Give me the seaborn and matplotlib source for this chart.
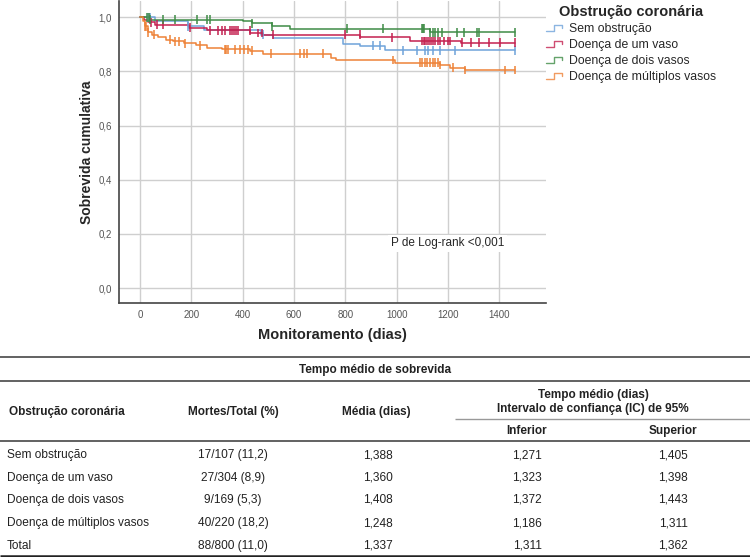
import numpy as np
import pandas as pd
import matplotlib
matplotlib.use("Agg")
import matplotlib.pyplot as plt
import seaborn as sns
from matplotlib.legend_handler import HandlerBase
from matplotlib.lines import Line2D

# ---- survival curves (KM steps) ----
groups = ["Sem obstrução", "Doença de um vaso", "Doença de dois vasos", "Doença de múltiplos vasos"]
colors = ["#6fa3da", "#c4204f", "#3f8c46", "#ee8238"]
end_day = 1460

sem_t = [0, 60, 185, 250, 470, 520, 790, 857, 955]
sem_s = [1.0, 0.985, 0.967, 0.952, 0.936, 0.922, 0.903, 0.895, 0.878]
sem_cens = [30, 38, 186, 480, 909, 935, 1026, 1078, 1111, 1124, 1143, 1169, 1228, 1461]

um_t = [0, 15, 30, 60, 190, 260, 430, 480, 858, 1052, 1250]
um_s = [1.0, 0.99, 0.982, 0.972, 0.961, 0.952, 0.942, 0.936, 0.926, 0.912, 0.906]
um_cens = [42, 68, 88, 195, 273, 305, 318, 330, 350, 360, 368, 375, 380, 428, 460, 476, 520,
           799, 857, 980, 1098, 1105, 1112, 1120, 1128, 1135, 1142, 1150, 1160, 1170, 1185,
           1200, 1208, 1254, 1290, 1320, 1358, 1403, 1461]

dois_t = [0, 40, 400, 436, 514, 584, 1130]
dois_s = [1.0, 0.991, 0.985, 0.977, 0.967, 0.958, 0.945]
dois_cens = [28, 34, 40, 90, 136, 221, 260, 273, 436, 514, 806, 948, 1098, 1102, 1105,
             1130, 1140, 1150, 1160, 1177, 1235, 1262, 1313, 1322, 1461]

mult_t = [0, 10, 20, 30, 45, 70, 100, 130, 170, 220, 260, 320, 430, 480, 745, 765, 994, 1169, 1208, 1267]
mult_s = [1.0, 0.985, 0.967, 0.945, 0.936, 0.926, 0.917, 0.911, 0.904, 0.896, 0.887, 0.881,
          0.877, 0.866, 0.851, 0.842, 0.832, 0.824, 0.814, 0.805]
mult_cens = [20, 25, 30, 55, 115, 135, 150, 175, 234, 330, 336, 343, 370, 390, 405, 420, 435,
             510, 625, 637, 650, 714, 986, 1091, 1100, 1110, 1120, 1130, 1140, 1150, 1160,
             1169, 1220, 1267, 1422, 1461]

# ---- table ----
tab_rows = ["Sem obstrução", "Doença de um vaso", "Doença de dois vasos", "Doença de múltiplos vasos", "Total"]
tab_mortes = ["17/107 (11,2)", "27/304 (8,9)", "9/169 (5,3)", "40/220 (18,2)", "88/800 (11,0)"]
tab_media = ["1,388", "1,360", "1,408", "1,248", "1,337"]
tab_inferior = ["1,271", "1,323", "1,372", "1,186", "1,311"]
tab_superior = ["1,405", "1,398", "1,443", "1,311", "1,362"]

steps = [(sem_t, sem_s), (um_t, um_s), (dois_t, dois_s), (mult_t, mult_s)]
cens = [sem_cens, um_cens, dois_cens, mult_cens]

curve_frames, cens_frames = [], []
for g, (t, s), c in zip(groups, steps, cens):
    t = np.array(t + [end_day], dtype=float)
    s = np.array(s + [s[-1]], dtype=float)
    curve_frames.append(pd.DataFrame({"dias": t, "sobrevida": s, "grupo": g}))
    ct = np.array(c, dtype=float)
    idx = np.searchsorted(t, ct, side="right") - 1
    cens_frames.append(pd.DataFrame({"dias": ct, "sobrevida": s[idx], "grupo": g}))
curves = pd.concat(curve_frames, ignore_index=True)
censored = pd.concat(cens_frames, ignore_index=True)

sns.set_theme(style="whitegrid")
plt.rcParams["font.family"] = "Liberation Sans"

W, H = 750, 557
fig = plt.figure(figsize=(W / 100, H / 100), dpi=100)
ax = fig.add_axes([119 / W, 1 - 303 / H, (546 - 119) / W, 302 / H])

palette = dict(zip(groups, colors))
sns.lineplot(data=curves, x="dias", y="sobrevida", hue="grupo", palette=palette,
             estimator=None, sort=False, drawstyle="steps-post", linewidth=1.1,
             legend=False, ax=ax)
sns.scatterplot(data=censored, x="dias", y="sobrevida", hue="grupo", palette=palette,
                marker="|", s=40, linewidth=1.1, legend=False, ax=ax, zorder=3)

ax.set_xlim(-82, 1582)
ax.set_ylim(-0.055, 1.06)
ax.set_xticks(np.arange(0, 1401, 200))
ax.set_yticks(np.arange(0, 1.01, 0.2))
ax.set_yticklabels([f"{v:.1f}".replace(".", ",") for v in np.arange(0, 1.01, 0.2)])
ax.tick_params(axis="both", labelsize=7, labelcolor="#555555", length=0)
ax.tick_params(axis="x", pad=5)
ax.tick_params(axis="y", pad=5)
ax.grid(True, color="#cfcfcf", linewidth=1)
ax.set_facecolor("white")
for side in ["top", "right"]:
    ax.spines[side].set_visible(False)
for side in ["left", "bottom"]:
    ax.spines[side].set_color("#444444")
    ax.spines[side].set_linewidth(1.2)
ax.set_xlabel("Monitoramento (dias)", fontsize=10.5, fontweight="bold", labelpad=6)
ax.set_ylabel("Sobrevida cumulativa", fontsize=10, fontweight="bold", labelpad=3)
ax.text(1200, 0.165, "P de Log-rank <0,001", fontsize=8.5, ha="center", va="center",
        bbox=dict(facecolor="white", edgecolor="none", pad=2))


class StepHandler(HandlerBase):
    def create_artists(self, legend, orig_handle, xdescent, ydescent, width, height, fontsize, trans):
        x0, y0 = -xdescent, -ydescent
        xs = [x0, x0 + 0.45 * width, x0 + 0.45 * width, x0 + 0.85 * width, x0 + 0.85 * width]
        ys = [y0 + 0.15 * height, y0 + 0.15 * height, y0 + 0.8 * height, y0 + 0.8 * height, y0 + 0.5 * height]
        ln = Line2D(xs, ys, color=orig_handle.get_color(), linewidth=1, alpha=0.8, transform=trans)
        return [ln]


handles = [Line2D([], [], color=c) for c in colors]
leg = fig.legend(handles, groups, loc="upper left", bbox_to_anchor=(546 / W, 1 - 5 / H),
                 title="Obstrução coronária", frameon=False, fontsize=8.8,
                 handler_map={Line2D: StepHandler()}, handlelength=1.5, handletextpad=0.35,
                 labelspacing=0.33, borderaxespad=0, borderpad=0)
leg.get_title().set_fontweight("bold")
leg.get_title().set_fontsize(10.5)
leg._legend_box.align = "center"

# ---- table drawn in pixel coordinates ----
tab = fig.add_axes([0, 0, 1, 1])
tab.set_xlim(0, W)
tab.set_ylim(H, 0)
tab.axis("off")
tab.patch.set_alpha(0)

tab.hlines([357, 381, 441], 0, W, color="#555555", linewidth=1.3)
tab.hlines(556, 0, W, color="#222222", linewidth=1.8)
tab.hlines(419, 455, W, color="#999999", linewidth=1)

# text placed on its baseline so every cell in a row lines up
base = 4
hfont = dict(fontsize=8.5, fontweight="bold", color="#222222", ha="center", va="baseline")
tab.text(375, 369 + base, "Tempo médio de sobrevida", **hfont)
tab.text(67, 411 + base, "Obstrução coronária", **hfont)
tab.text(233, 411 + base, "Mortes/Total (%)", **hfont)
tab.text(376, 411 + base, "Média (dias)", **hfont)
tab.text(593, 394 + base, "Tempo médio (dias)", **hfont)
tab.text(593, 408 + base, "Intervalo de confiança (IC) de 95%", **hfont)
tab.text(527, 430 + base, "Inferior", **hfont)
tab.text(673, 430 + base, "Superior", **hfont)

row_y = [454, 477, 499, 522, 545]
bfont = dict(fontsize=8.6, color="#222222", va="baseline")
for y, r, m, md, lo, hi in zip(row_y, tab_rows, tab_mortes, tab_media, tab_inferior, tab_superior):
    yb = y + base
    tab.text(7, yb, r, ha="left", **bfont)
    tab.text(233, yb, m, ha="center", **bfont)
    tab.text(378, yb, md, ha="center", **bfont)
    tab.text(527, yb, lo, ha="center", **bfont)
    tab.text(673, yb, hi, ha="center", **bfont)

fig.savefig("out.png", dpi=100)
